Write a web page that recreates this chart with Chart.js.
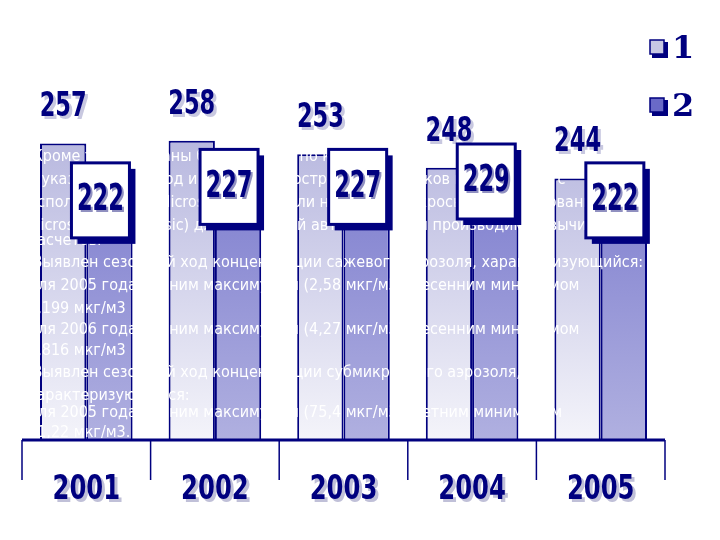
<!DOCTYPE html><html><head><meta charset="utf-8">
<script src="https://cdn.jsdelivr.net/npm/chart.js"></script>
<style>body{margin:0;background:#fff}#w{width:720px;height:540px}</style></head><body><div id="w"><canvas id="c"></canvas></div>
<script>
const categories=['2001','2002','2003','2004','2005'];
const series1=[257,258,253,248,244];
const series2=[222,227,227,229,222];
const seriesNames=['1','2'];
const overlayLines=[' Кроме того, созданы базы данных по концентрациям аэрозоля в',
'о указанный период и значения. Построение графиков проводилось с',
'использованием Microsoft Excel. Были написаны макросы (с использованием',
'Microsoft Visual Basic) для некоторой автоматизации производимых вычислений',
'расчетов.',
' Выявлен сезонный ход концентрации сажевого аэрозоля, характеризующийся:',
'для 2005 года зимним максимумом (2,58 мкг/м3); весенним минимумом',
'0,199 мкг/м3',
'для 2006 года зимним максимумом (4,27 мкг/м3); весенним минимумом',
'0,816 мкг/м3',
' Выявлен сезонный ход концентрации субмикронного аэрозоля,',
'характеризующийся:',
'для 2005 года зимним максимумом (75,4 мкг/м3); летним минимумом',
'21,22 мкг/м3.'];
const navy='#00007f';
function grad(top,bot){return c=>{const a=c.chart.chartArea;if(!a)return top;const g=c.chart.ctx.createLinearGradient(0,a.top,0,a.bottom);g.addColorStop(0,top);g.addColorStop(1,bot);return g;};}
function tall(ctx,t,x,y,sy){ctx.save();ctx.translate(x,y);ctx.scale(1,sy);ctx.fillText(t,0,0);ctx.restore();}
const deco={id:'deco',afterDatasetsDraw(ch){
 const ctx=ch.ctx,x=ch.scales.x,a=ch.chartArea;
 ctx.save();
 ctx.fillStyle='#fff';ctx.font='16px "DejaVu Sans Condensed", "DejaVu Sans"';ctx.textBaseline='middle';
 const ys=[157,180,203,226,241,263,286,309,330,351,373,396,413,433];
 overlayLines.forEach((t,i)=>ctx.fillText(t,28,ys[i]));
 ctx.font='bold 25px "DejaVu Sans Condensed", "DejaVu Sans"';ctx.textAlign='center';ctx.textBaseline='middle';
 const m0=ch.getDatasetMeta(0).data,m1=ch.getDatasetMeta(1).data;
 m0.forEach((b,i)=>{ctx.fillStyle='#c8c8e0';tall(ctx,series1[i],b.x+3,b.y-33,1.35);ctx.fillStyle=navy;tall(ctx,series1[i],b.x,b.y-36,1.35);});
 m1.forEach((b,i)=>{const w=58,h=75,bx=b.x-38,by=b.y-h;
  ctx.fillStyle=navy;ctx.fillRect(bx+6,by+6,w,h);ctx.fillStyle='#fff';ctx.fillRect(bx,by,w,h);
  ctx.strokeStyle=navy;ctx.lineWidth=3;ctx.strokeRect(bx,by,w,h);
  ctx.fillStyle='#9090c0';tall(ctx,series2[i],bx+w/2+2,by+h/2+2,1.5);ctx.fillStyle=navy;tall(ctx,series2[i],bx+w/2,by+h/2,1.5);});
 ctx.strokeStyle=navy;ctx.lineWidth=3;ctx.beginPath();ctx.moveTo(a.left,a.bottom);ctx.lineTo(a.right,a.bottom);ctx.stroke();
 ctx.lineWidth=1.5;const cw=(a.right-a.left)/categories.length;
 for(let i=0;i<=categories.length;i++){const px=a.left+i*cw;ctx.beginPath();ctx.moveTo(px,a.bottom);ctx.lineTo(px,a.bottom+40);ctx.stroke();}
 ctx.font='bold 27px "DejaVu Sans Condensed", "DejaVu Sans"';
 categories.forEach((c,i)=>{const px=x.getPixelForValue(i);ctx.fillStyle='#c0c0d8';tall(ctx,c,px+3,493,1.25);ctx.fillStyle=navy;tall(ctx,c,px,490,1.25);});
 ctx.font='bold 32px "DejaVu Serif", serif';ctx.textAlign='left';
 [[50,'#c8c8e4'],[108,'#6a6ac8']].forEach(([yy,col],i)=>{ctx.fillStyle=navy;ctx.fillRect(652,yy-8,16,16);ctx.fillStyle=col;ctx.fillRect(650,yy-10,14,14);ctx.strokeStyle=navy;ctx.lineWidth=1.5;ctx.strokeRect(650,yy-10,14,14);ctx.fillStyle=navy;ctx.fillText(seriesNames[i],672,yy);});
 ctx.restore();}};
new Chart(document.getElementById('c'),{type:'bar',
 data:{labels:categories,datasets:[
  {label:seriesNames[0],data:series1,backgroundColor:grad('#a8a8d8','#f4f4fa'),borderColor:navy,borderWidth:2,categoryPercentage:0.72,barPercentage:1},
  {label:seriesNames[1],data:series2,backgroundColor:grad('#6a6ac8','#b0b0e0'),borderColor:navy,borderWidth:2,categoryPercentage:0.72,barPercentage:1}]},
 options:{responsive:true,maintainAspectRatio:false,animation:false,
  layout:{padding:{left:22,right:55,top:60,bottom:100}},
  plugins:{legend:{display:false},tooltip:{enabled:false}},
  scales:{x:{display:false},y:{display:false,min:147,max:288}}},
 plugins:[deco]});
</script></body></html>
